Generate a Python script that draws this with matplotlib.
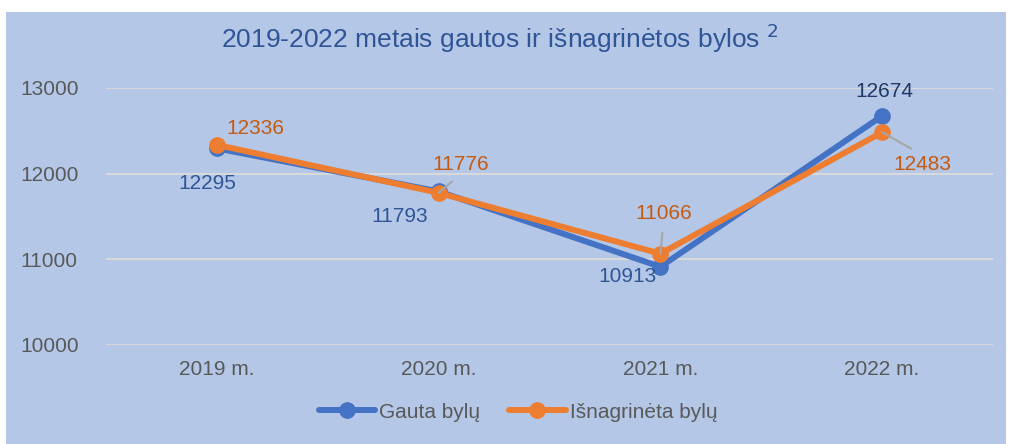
import matplotlib
matplotlib.use('Agg')
import matplotlib.pyplot as plt
from matplotlib.patches import Rectangle

YEARS = ['2019 m.', '2020 m.', '2021 m.', '2022 m.']
GAUTA = [12295, 11793, 10913, 12674]
ISNAG = [12336, 11776, 11066, 12483]

# label offsets in pixels (dx, dy up) from the point
GAUTA_OFF = [(-10, -35), (-39, -25), (-33, -10), (2, 24)]
ISNAG_OFF = [(38, 16), (22, 28), (3, 40), (40, -32)]
# leader line: None or the point on the label box it attaches to
ISNAG_LEADER = [None, (0.5, 0.0), (0.5, 0.0), (0.5, 1.0)]

BLUE = '#4472C4'
ORANGE = '#ED7D31'
BG = '#B4C7E7'
GREY_TXT = '#595959'

plt.rcParams['font.family'] = ['Liberation Sans', 'DejaVu Sans']

fig = plt.figure(figsize=(10.1, 4.44), dpi=100)
fig.patch.set_facecolor('white')
fig.patches.append(Rectangle((6 / 1010, 0), 1000 / 1010, 432 / 444,
                             transform=fig.transFigure, facecolor=BG,
                             edgecolor='none', zorder=-10))

ax = fig.add_axes([106 / 1010, 1 - 345 / 444, 887 / 1010, 257 / 444])
ax.set_facecolor('none')
x = list(range(len(YEARS)))

ax.plot(x, GAUTA, color=BLUE, lw=4.3, marker='o', ms=11, label='Gauta bylų',
        solid_capstyle='round', zorder=3)
ax.plot(x, ISNAG, color=ORANGE, lw=4.3, marker='o', ms=11, label='Išnagrinėta bylų',
        solid_capstyle='round', zorder=4)

ax.set_xlim(-0.5, 3.5)
ax.set_ylim(10000, 13000)
ax.set_yticks([10000, 11000, 12000, 13000])
ax.set_xticks(x)
ax.set_xticklabels(YEARS)
ax.grid(axis='y', color='#D9D9D9', lw=1.5, zorder=1)
for s in ax.spines.values():
    s.set_visible(False)
ax.tick_params(length=0, colors=GREY_TXT, labelsize=15)
ax.tick_params(axis='x', pad=11)
ax.tick_params(axis='y', pad=62)
for t in ax.get_yticklabels():
    t.set_horizontalalignment('left')

px = 0.72  # pixels -> points at dpi 100
for i, v in enumerate(GAUTA):
    dx, dy = GAUTA_OFF[i]
    col = '#1F3864' if i == 3 else '#2F5597'
    ax.annotate(str(v), (i, v), xytext=(dx * px, dy * px), textcoords='offset points',
                ha='center', va='center', fontsize=15, color=col, zorder=5,
                annotation_clip=False)
for i, v in enumerate(ISNAG):
    dx, dy = ISNAG_OFF[i]
    rel = ISNAG_LEADER[i]
    arrow = None
    if rel is not None:
        arrow = dict(arrowstyle='-', color='#A6A6A6', lw=1.5, shrinkA=5, shrinkB=0,
                     relpos=rel)
    ax.annotate(str(v), (i, v), xytext=(dx * px, dy * px), textcoords='offset points',
                ha='center', va='center', fontsize=15, color='#C55A11', zorder=5,
                arrowprops=arrow, annotation_clip=False)

fig.text(500 / 1010, 1 - 38 / 444, '2019-2022 metais gautos ir išnagrinėtos bylos $^2$',
         ha='center', va='center', fontsize=19, color='#2F5597')

ax.legend(loc='center', bbox_to_anchor=(518 / 1010, 1 - 412 / 444),
          bbox_transform=fig.transFigure, ncol=2, frameon=False, fontsize=15,
          labelcolor=GREY_TXT, handlelength=2.7, handletextpad=0.2, columnspacing=1.4)

fig.savefig('out.png', dpi=100)
